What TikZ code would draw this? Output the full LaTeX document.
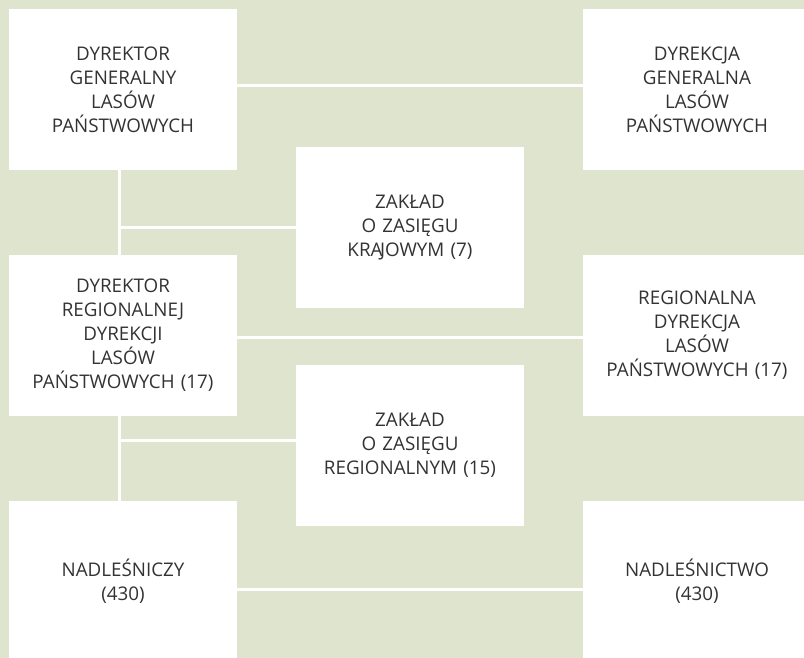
\documentclass[tikz,border=0pt]{standalone}
\usepackage{fontspec}
\setmainfont{Open Sans}
\usepackage{tikz}
\definecolor{leafbg}{HTML}{DEE4CD}
\definecolor{inkgray}{HTML}{333333}

\begin{document}
\begin{tikzpicture}[x=1pt,y=-1pt,
                    link/.style={draw=white,line width=3pt},
                    unit/.style={rectangle,fill=white,minimum width=228pt,minimum height=161pt,
                      inner sep=0pt,text width=224pt,align=center,text=inkgray,
                      font=\fontsize{18.8}{24}\selectfont}]
  \fill[leafbg] (0,0) rectangle (804,658);
  \clip (0,0) rectangle (804,658);
  \useasboundingbox (0,0) rectangle (804,658);
  % boxes
  \node[unit] (dglp) at (123,89.5) {DYREKTOR\\GENERALNY\\LASÓW\\PAŃSTWOWYCH};
  \node[unit] (dgen) at (697,89.5) {DYREKCJA\\GENERALNA\\LASÓW\\PAŃSTWOWYCH};
  \node[unit] (zkraj) at (410,227.5) {ZAKŁAD\\O ZASIĘGU\\KRA\kern-2.5pt JOWYM (7)};
  \node[unit] (drdlp) at (123,335.5) {DYREKTOR\\REGIONALNEJ\\DYREKCJI\\LASÓW\\PAŃSTWOWYCH (17)};
  \node[unit] (rdlp) at (697,335.5) {REGIONALNA\\DYREKCJA\\LASÓW\\PAŃSTWOWYCH (17)};
  \node[unit] (zreg) at (410,445.5) {ZAKŁAD\\O ZASIĘGU\\REGIONALNYM (15)};
  \node[unit] (nadl) at (123,581.5) {NADLEŚNICZY\\(430)};
  \node[unit] (nadlo) at (697,581.5) {NADLEŚNICTWO\\(430)};

  \path[link]
    ([yshift=3.5pt]dglp.east) edge ([yshift=3.5pt]dgen.west)
    ([yshift=-1.5pt]drdlp.east) edge ([yshift=-1.5pt]rdlp.west)
    ([yshift=-7.5pt]nadl.east) edge ([yshift=-7.5pt]nadlo.west)
    ([xshift=-3.5pt]dglp.south) edge ([xshift=-3.5pt]drdlp.north)
    ([xshift=-3.5pt]drdlp.south) edge ([xshift=-3.5pt]nadl.north)
    ([xshift=-3.5pt]dglp.south |- zkraj.west) edge (zkraj.west)
    ([xshift=-3.5pt,yshift=5.5pt]drdlp.south |- zreg.west) edge ([yshift=5.5pt]zreg.west);
\end{tikzpicture}
\end{document}
